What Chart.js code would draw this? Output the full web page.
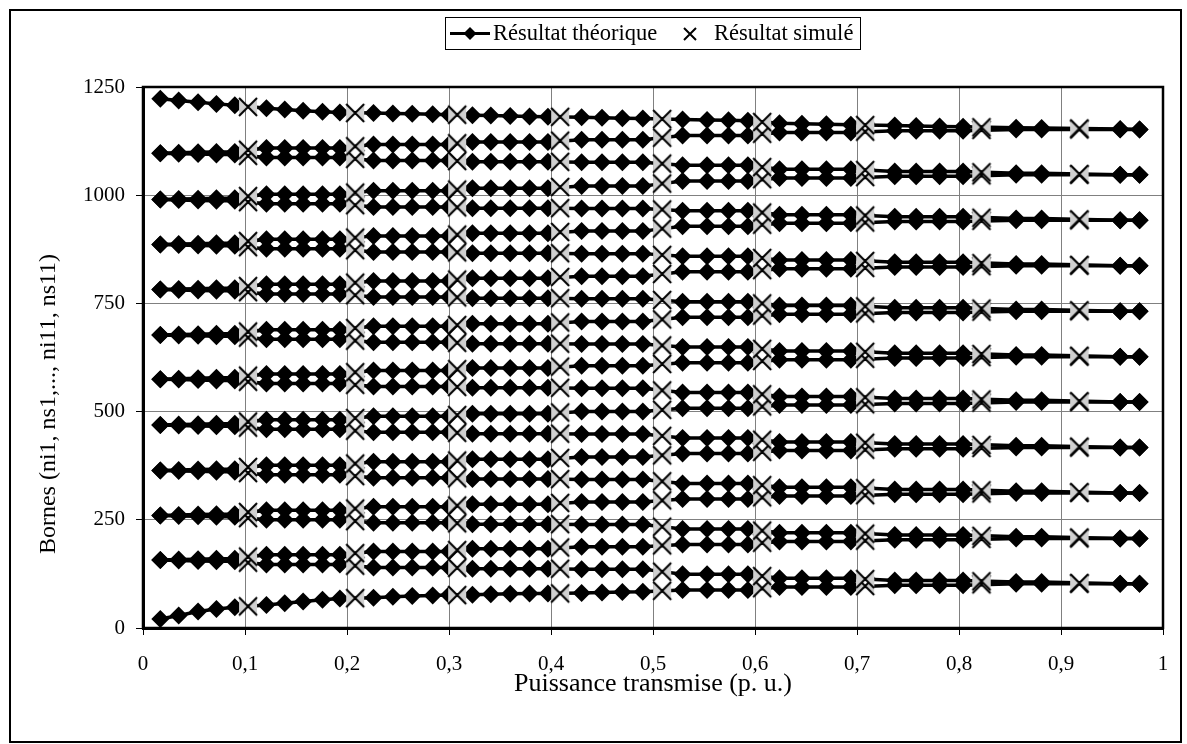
<!DOCTYPE html>
<html lang="fr">
<head>
<meta charset="UTF-8">
<title>Bornes théoriques et simulées</title>
<script src="https://cdn.jsdelivr.net/npm/chart.js"></script>
<style>
  html, body { margin: 0; padding: 0; background: #fff; }
  #wrap { width: 1187px; height: 744px; position: relative; }
</style>
</head>
<body>
<div id="wrap"><canvas id="chart"></canvas></div>
<script>
// abscisses (puissance transmise, p.u.)
const xTheo = [0.017, 0.035, 0.054, 0.072, 0.090,
  0.121, 0.139, 0.157, 0.176, 0.193,
  0.226, 0.245, 0.264, 0.284, 0.300,
  0.323, 0.341, 0.360, 0.379, 0.397,
  0.430, 0.450, 0.470, 0.490,
  0.529, 0.553, 0.574, 0.593,
  0.624, 0.646, 0.670, 0.694,
  0.737, 0.758, 0.781, 0.804,
  0.856, 0.881,
  0.958, 0.977];
const xSim = [0.103, 0.208, 0.308, 0.409, 0.509, 0.607, 0.708, 0.822, 0.918];

// résultat théorique, une liste par borne
const ns11 = [1223,1219,1215,1211,1208, 1201,1198,1195,1193,1191, 1190,1189,1188,1187,1186, 1185,1184,1183,1182,1181, 1180,1179,1178,1177, 1175,1174,1173,1172, 1166,1165,1164,1163, 1161,1160,1159,1158, 1156,1155, 1153,1152];
const ni11 = [1097,1098,1099,1100,1100, 1109,1109,1109,1109,1109, 1117,1117,1117,1117,1117, 1123,1123,1123,1123,1123, 1128,1128,1128,1128, 1138,1138,1138,1138, 1145,1145,1145,1145, 1149,1149,1149,1149, 1152,1152, 1152,1152];
const ns10 = [1097,1096,1095,1094,1094, 1087,1087,1087,1087,1087, 1080,1080,1080,1080,1080, 1077,1077,1077,1077,1077, 1076,1076,1076,1076, 1069,1069,1069,1069, 1060,1060,1060,1060, 1055,1055,1055,1055, 1051,1051, 1047,1047];
const ni10 = [990,991,992,993,993, 1002,1002,1002,1002,1002, 1010,1010,1010,1010,1010, 1016,1016,1016,1016,1016, 1021,1021,1021,1021, 1033,1033,1033,1033, 1040,1040,1040,1040, 1044,1044,1044,1044, 1047,1047, 1047,1047];
const ns9 = [990,989,988,987,987, 980,980,980,980,980, 973,973,973,973,973, 970,970,970,970,970, 969,969,969,969, 964,964,964,964, 955,955,955,955, 950,950,950,950, 946,946, 942,942];
const ni9 = [886,887,888,889,889, 898,898,898,898,898, 906,906,906,906,906, 912,912,912,912,912, 917,917,917,917, 928,928,928,928, 935,935,935,935, 939,939,939,939, 942,942, 942,942];
const ns8 = [886,885,884,883,883, 876,876,876,876,876, 869,869,869,869,869, 866,866,866,866,866, 865,865,865,865, 859,859,859,859, 850,850,850,850, 845,845,845,845, 841,841, 837,837];
const ni8 = [782,783,784,785,785, 794,794,794,794,794, 802,802,802,802,802, 808,808,808,808,808, 813,813,813,813, 823,823,823,823, 830,830,830,830, 834,834,834,834, 837,837, 837,837];
const ns7 = [782,781,780,779,779, 772,772,772,772,772, 765,765,765,765,765, 762,762,762,762,762, 761,761,761,761, 754,754,754,754, 745,745,745,745, 740,740,740,740, 736,736, 732,732];
const ni7 = [677,678,679,680,680, 689,689,689,689,689, 697,697,697,697,697, 703,703,703,703,703, 708,708,708,708, 718,718,718,718, 725,725,725,725, 729,729,729,729, 732,732, 732,732];
const ns6 = [677,676,675,674,674, 667,667,667,667,667, 660,660,660,660,660, 657,657,657,657,657, 656,656,656,656, 649,649,649,649, 640,640,640,640, 635,635,635,635, 631,631, 627,627];
const ni6 = [575,576,577,578,578, 587,587,587,587,587, 595,595,595,595,595, 601,601,601,601,601, 606,606,606,606, 613,613,613,613, 620,620,620,620, 624,624,624,624, 627,627, 627,627];
const ns5 = [575,574,573,572,572, 565,565,565,565,565, 558,558,558,558,558, 555,555,555,555,555, 554,554,554,554, 544,544,544,544, 535,535,535,535, 530,530,530,530, 526,526, 522,522];
const ni5 = [469,470,471,472,472, 481,481,481,481,481, 489,489,489,489,489, 495,495,495,495,495, 500,500,500,500, 508,508,508,508, 515,515,515,515, 519,519,519,519, 522,522, 522,522];
const ns4 = [469,468,467,466,466, 459,459,459,459,459, 452,452,452,452,452, 449,449,449,449,449, 448,448,448,448, 439,439,439,439, 430,430,430,430, 425,425,425,425, 421,421, 417,417];
const ni4 = [364,365,366,367,367, 376,376,376,376,376, 384,384,384,384,384, 390,390,390,390,390, 395,395,395,395, 403,403,403,403, 410,410,410,410, 414,414,414,414, 417,417, 417,417];
const ns3 = [364,363,362,361,361, 354,354,354,354,354, 347,347,347,347,347, 344,344,344,344,344, 343,343,343,343, 334,334,334,334, 325,325,325,325, 320,320,320,320, 316,316, 312,312];
const ni3 = [260,261,262,263,263, 272,272,272,272,272, 280,280,280,280,280, 286,286,286,286,286, 291,291,291,291, 298,298,298,298, 305,305,305,305, 309,309,309,309, 312,312, 312,312];
const ns2 = [260,259,258,257,257, 250,250,250,250,250, 243,243,243,243,243, 240,240,240,240,240, 239,239,239,239, 229,229,229,229, 220,220,220,220, 215,215,215,215, 211,211, 207,207];
const ni2 = [157,158,159,160,160, 169,169,169,169,169, 177,177,177,177,177, 183,183,183,183,183, 188,188,188,188, 193,193,193,193, 200,200,200,200, 204,204,204,204, 207,207, 207,207];
const ns1 = [157,156,155,154,154, 147,147,147,147,147, 140,140,140,140,140, 137,137,137,137,137, 136,136,136,136, 124,124,124,124, 115,115,115,115, 110,110,110,110, 106,106, 102,102];
const ni1 = [21,29,38,44,48, 53,57,61,65,68, 70,72,74,75,76, 77,78,79,80,80, 81,82,83,84, 88,88,88,88, 95,95,95,95, 99,99,99,99, 102,102, 102,102];

// résultat simulé aux neuf abscisses xSim
const ns11Sim = [1204, 1190, 1186, 1181, 1176, 1169, 1162, 1157, 1154];
const ni11Sim = [1105, 1113, 1120, 1126, 1133, 1142, 1147, 1151, 1152];
const ns10Sim = [1091, 1084, 1079, 1077, 1073, 1065, 1058, 1053, 1049];
const ni10Sim = [998, 1006, 1013, 1019, 1027, 1037, 1042, 1046, 1047];
const ns9Sim = [984, 977, 972, 970, 967, 960, 953, 948, 944];
const ni9Sim = [894, 902, 909, 915, 923, 932, 937, 941, 942];
const ns8Sim = [880, 873, 868, 866, 862, 855, 848, 843, 839];
const ni8Sim = [790, 798, 805, 811, 818, 827, 832, 836, 837];
const ns7Sim = [776, 769, 764, 762, 758, 750, 743, 738, 734];
const ni7Sim = [685, 693, 700, 706, 713, 722, 727, 731, 732];
const ns6Sim = [671, 664, 659, 657, 653, 645, 638, 633, 629];
const ni6Sim = [583, 591, 598, 604, 610, 617, 622, 626, 627];
const ns5Sim = [569, 562, 557, 555, 549, 540, 533, 528, 524];
const ni5Sim = [477, 485, 492, 498, 504, 512, 517, 521, 522];
const ns4Sim = [463, 456, 451, 449, 444, 435, 428, 423, 419];
const ni4Sim = [372, 380, 387, 393, 399, 407, 412, 416, 417];
const ns3Sim = [358, 351, 346, 344, 339, 330, 323, 318, 314];
const ni3Sim = [268, 276, 283, 289, 295, 302, 307, 311, 312];
const ns2Sim = [254, 247, 242, 240, 234, 225, 218, 213, 209];
const ni2Sim = [165, 173, 180, 186, 191, 197, 202, 206, 207];
const ns1Sim = [151, 144, 139, 137, 130, 120, 113, 108, 104];
const ni1Sim = [50, 69, 76, 80, 86, 92, 97, 101, 102];

const yTicks = [0, 250, 500, 750, 1000, 1250];

const theo = { ni1, ns1, ni2, ns2, ni3, ns3, ni4, ns4, ni5, ns5, ni6, ns6, ni7, ns7, ni8, ns8, ni9, ns9, ni10, ns10, ni11, ns11 };
const sim = [ni1Sim, ns1Sim, ni2Sim, ns2Sim, ni3Sim, ns3Sim, ni4Sim, ns4Sim, ni5Sim, ns5Sim, ni6Sim, ns6Sim,
  ni7Sim, ns7Sim, ni8Sim, ns8Sim, ni9Sim, ns9Sim, ni10Sim, ns10Sim, ni11Sim, ns11Sim];

const SERIF = "'Liberation Serif', 'Times New Roman', serif";

// marqueur X avec ses deux côtés grisés
function crossMarker() {
  const c = document.createElement('canvas');
  c.width = 28; c.height = 28;
  const g = c.getContext('2d');
  g.fillStyle = '#d0d0d0';
  g.beginPath(); g.moveTo(5, 5); g.lineTo(14, 14); g.lineTo(5, 23); g.closePath(); g.fill();
  g.beginPath(); g.moveTo(23, 5); g.lineTo(14, 14); g.lineTo(23, 23); g.closePath(); g.fill();
  g.strokeStyle = '#000'; g.lineWidth = 2;
  g.beginPath(); g.moveTo(5, 5); g.lineTo(23, 23); g.moveTo(23, 5); g.lineTo(5, 23); g.stroke();
  return c;
}

const datasets = [];
datasets.push({
  label: 'Résultat simulé',
  data: sim.flatMap(vals => xSim.map((x, i) => ({ x, y: vals[i] }))),
  showLine: false,
  pointStyle: crossMarker(),
  pointRadius: 12,
  order: 0
});
Object.entries(theo).forEach(([name, vals]) => {
  datasets.push({
    label: name,
    data: xTheo.map((x, i) => ({ x, y: vals[i] })),
    showLine: true,
    borderColor: '#000',
    borderWidth: 3.5,
    pointStyle: 'rectRot',
    pointRadius: 9,
    pointBackgroundColor: '#000',
    pointBorderColor: '#000',
    pointBorderWidth: 0,
    order: 1
  });
});

const frames = {
  id: 'frames',
  beforeDraw(chart) {
    const ctx = chart.ctx;
    ctx.save();
    ctx.fillStyle = '#fff';
    ctx.fillRect(0, 0, chart.width, chart.height);
    ctx.strokeStyle = '#000';
    ctx.lineWidth = 2;
    ctx.strokeRect(10, 10, 1171, 732);
    ctx.restore();
  },
  afterDraw(chart) {
    const { ctx, chartArea: a } = chart;
    ctx.save();
    ctx.strokeStyle = '#000';
    ctx.lineWidth = 2.5;
    ctx.strokeRect(a.left, a.top, a.right - a.left, a.bottom - a.top);

    // titre de l'axe vertical
    ctx.fillStyle = '#000';
    ctx.font = '24px ' + SERIF;
    ctx.textAlign = 'center';
    ctx.textBaseline = 'middle';
    ctx.translate(49, 404);
    ctx.rotate(-Math.PI / 2);
    ctx.fillText('Bornes (ni1, ns1,..., ni11, ns11)', 0, 0);
    ctx.setTransform(1, 0, 0, 1, 0, 0);

    // légende encadrée
    ctx.lineWidth = 1;
    ctx.strokeRect(445.5, 17.5, 415, 32);
    ctx.lineWidth = 3;
    ctx.beginPath(); ctx.moveTo(450, 33.5); ctx.lineTo(490, 33.5); ctx.stroke();
    ctx.beginPath(); ctx.moveTo(470, 27); ctx.lineTo(476.5, 33.5); ctx.lineTo(470, 40); ctx.lineTo(463.5, 33.5); ctx.closePath(); ctx.fill();
    ctx.lineWidth = 2;
    ctx.beginPath(); ctx.moveTo(684, 28); ctx.lineTo(696, 40); ctx.moveTo(696, 28); ctx.lineTo(684, 40); ctx.stroke();
    ctx.font = '22.5px ' + SERIF;
    ctx.textAlign = 'left';
    ctx.fillText('Résultat théorique', 493, 34);
    ctx.fillText('Résultat simulé', 714, 34);
    ctx.restore();
  }
};

new Chart(document.getElementById('chart'), {
  type: 'scatter',
  data: { datasets },
  plugins: [frames],
  options: {
    responsive: true,
    maintainAspectRatio: false,
    animation: false,
    layout: { padding: { left: 30, top: 87, right: 24, bottom: 40 } },
    plugins: { legend: { display: false }, tooltip: { enabled: false } },
    scales: {
      x: {
        type: 'linear', min: 0, max: 1,
        afterFit: s => { s.height = 76; },
        ticks: {
          stepSize: 0.1, color: '#000', padding: 17,
          font: { family: SERIF, size: 21 },
          callback: v => (v === 0 || v === 1) ? String(v) : v.toFixed(1).replace('.', ',')
        },
        grid: { color: '#808080', lineWidth: 1, tickColor: '#000', tickLength: 7 },
        border: { color: '#000', width: 3 },
        title: { display: true, text: 'Puissance transmise (p. u.)', color: '#000', font: { family: SERIF, size: 26 }, padding: 4 }
      },
      y: {
        type: 'linear', min: 0, max: 1250,
        afterFit: s => { s.width = 113; },
        afterBuildTicks: s => { s.ticks = yTicks.map(v => ({ value: v })); },
        ticks: { color: '#000', padding: 11, font: { family: SERIF, size: 21 }, callback: v => String(v) },
        grid: { color: '#808080', lineWidth: 1, tickColor: '#000', tickLength: 7 },
        border: { color: '#000', width: 3 },
        title: { display: false }
      }
    }
  }
});
</script>
</body>
</html>
